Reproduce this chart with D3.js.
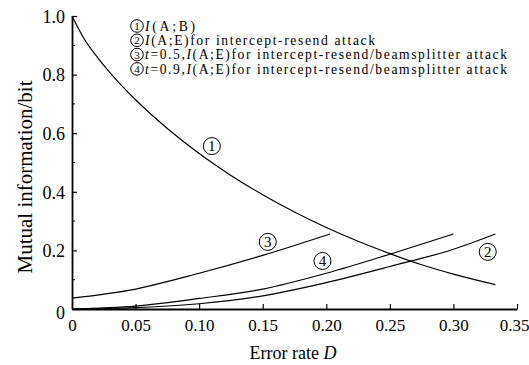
<!DOCTYPE html>
<html>
<head>
<meta charset="utf-8">
<script src="https://cdn.jsdelivr.net/npm/d3@7"></script>
<style>
  body { margin: 0; background: #fff; }
  svg { display: block; }
  text { font-family: "Liberation Serif", "Times New Roman", serif; fill: #000; }
</style>
</head>
<body>
<div id="chart"></div>
<script>
const width = 529;
const height = 365;

// Curve values (error rate D -> mutual information, bit)
const errRate1 = [0, 0.01, 0.02, 0.03, 0.05, 0.075, 0.10, 0.125, 0.15, 0.175, 0.20, 0.225, 0.25, 0.275, 0.30, 0.333];
const infoAB   = [1.0, 0.919, 0.859, 0.806, 0.714, 0.616, 0.531, 0.456, 0.39, 0.331, 0.278, 0.231, 0.189, 0.151, 0.119, 0.083];

const errRate2 = [0, 0.05, 0.10, 0.15, 0.20, 0.25, 0.30, 0.333];
const infoAE   = [0, 0.005, 0.018, 0.045, 0.09, 0.145, 0.204, 0.256];

const errRate3 = [0, 0.05, 0.10, 0.15, 0.203];
const infoT05  = [0.037, 0.068, 0.122, 0.183, 0.256];

const errRate4 = [0, 0.05, 0.10, 0.15, 0.20, 0.25, 0.30];
const infoT09  = [0, 0.01, 0.036, 0.068, 0.122, 0.187, 0.256];

const xTicks = [0, 0.05, 0.10, 0.15, 0.20, 0.25, 0.30, 0.35];
const xTickLabels = ['0', '0.05', '0.10', '0.15', '0.20', '0.25', '0.30', '0.35'];
const yTicks = [0, 0.2, 0.4, 0.6, 0.8, 1.0];
const yTickLabels = ['0', '0.2', '0.4', '0.6', '0.8', '1.0'];
const yMinorTicks = [0.1, 0.3, 0.5, 0.7, 0.9];

// label positions are given in data units
const curveLabels = [
  { num: '1', d: 0.110, v: 0.556 },
  { num: '2', d: 0.327, v: 0.195 },
  { num: '3', d: 0.154, v: 0.229 },
  { num: '4', d: 0.197, v: 0.164 },
];

const serif = '"Liberation Serif", "Times New Roman", serif';

const svg = d3.select('#chart')
  .append('svg')
  .attr('width', width)
  .attr('height', height)
  .style('font-family', serif);

const x = d3.scaleLinear().domain([0, 0.35]).range([72, 517]);
const y = d3.scaleLinear().domain([0, 1]).range([309, 16]);

// x axis, ticks point inward
const xAxis = svg.append('g')
  .attr('transform', `translate(0,${y(0)})`)
  .call(d3.axisBottom(x)
    .tickValues(xTicks)
    .tickFormat((d, i) => xTickLabels[i])
    .tickSizeInner(-5)
    .tickSizeOuter(0)
    .tickPadding(8))
  .attr('font-family', null)
  .attr('font-size', null);
xAxis.select('.domain').attr('stroke-width', 1.8);
xAxis.selectAll('.tick line').attr('stroke-width', 1.2);
xAxis.selectAll('.tick text')
  .style('font-family', serif)
  .attr('font-size', 17)
  .attr('y', 10)
  .attr('dy', '0.72em')
  .attr('dx', (d) => d === 0.35 ? -3 : 0);

// y axis
const yAxis = svg.append('g')
  .attr('transform', `translate(${x(0)},0)`)
  .call(d3.axisLeft(y)
    .tickValues(yTicks)
    .tickFormat((d, i) => yTickLabels[i])
    .tickSizeInner(-5)
    .tickSizeOuter(0)
    .tickPadding(8))
  .attr('font-family', null)
  .attr('font-size', null);
yAxis.select('.domain').attr('stroke-width', 1.8);
yAxis.selectAll('.tick line').attr('stroke-width', 1.2);
yAxis.selectAll('.tick text')
  .style('font-family', serif)
  .attr('font-size', 18)
  .attr('x', -7)
  .attr('dy', (d) => d === 0 ? '0.5em' : '0.35em');

svg.append('g')
  .selectAll('line')
  .data(yMinorTicks)
  .join('line')
  .attr('x1', x(0))
  .attr('x2', x(0) + 3)
  .attr('y1', (d) => y(d))
  .attr('y2', (d) => y(d))
  .attr('stroke', '#000')
  .attr('stroke-width', 1);

// curves
const line = d3.line()
  .x((d) => x(d[0]))
  .y((d) => y(d[1]))
  .curve(d3.curveMonotoneX);

const series = [
  d3.zip(errRate1, infoAB),
  d3.zip(errRate2, infoAE),
  d3.zip(errRate3, infoT05),
  d3.zip(errRate4, infoT09),
];

svg.append('g')
  .selectAll('path')
  .data(series)
  .join('path')
  .attr('d', line)
  .attr('fill', 'none')
  .attr('stroke', '#000')
  .attr('stroke-width', 1.2);

// circled curve numbers
const marks = svg.append('g')
  .selectAll('g')
  .data(curveLabels)
  .join('g')
  .attr('transform', (d) => `translate(${x(d.d)},${y(d.v)})`);
marks.append('circle')
  .attr('r', 8.5)
  .attr('fill', '#fff')
  .attr('stroke', '#000')
  .attr('stroke-width', 1);
marks.append('text')
  .attr('text-anchor', 'middle')
  .attr('dy', '0.36em')
  .attr('font-size', 15)
  .text((d) => d.num);

// legend
const legendRows = [
  { num: '1', parts: [['I', true], ['(A;B)', false]], w: 50 },
  { num: '2', parts: [['I', true], ['(A;E)for intercept-resend attack', false]], w: 230 },
  { num: '3', parts: [['t', true], ['=0.5,', false], ['I', true], ['(A;E)for intercept-resend/beamsplitter attack', false]], w: 362 },
  { num: '4', parts: [['t', true], ['=0.9,', false], ['I', true], ['(A;E)for intercept-resend/beamsplitter attack', false]], w: 362 },
];

const legend = svg.append('g');
legendRows.forEach((row, i) => {
  const cy = 26 + i * 14.3;
  legend.append('circle')
    .attr('cx', 137)
    .attr('cy', cy)
    .attr('r', 6.3)
    .attr('fill', 'none')
    .attr('stroke', '#000')
    .attr('stroke-width', 1);
  legend.append('text')
    .attr('x', 137)
    .attr('y', cy)
    .attr('dy', '0.36em')
    .attr('text-anchor', 'middle')
    .attr('font-size', 11)
    .text(row.num);
  const t = legend.append('text')
    .attr('x', 145)
    .attr('y', cy)
    .attr('dy', '0.34em')
    .attr('font-size', 13.6);
  row.parts.forEach(([s, it]) => {
    t.append('tspan')
      .attr('font-style', it ? 'italic' : 'normal')
      .text(s);
  });
  const natural = t.node().getComputedTextLength();
  const n = row.parts.map((p) => p[0]).join('').length;
  t.attr('letter-spacing', (row.w - natural) / (n - 1));
});

// axis titles
const yTitle = svg.append('text')
  .attr('transform', 'translate(26,177) rotate(-90)')
  .attr('text-anchor', 'middle')
  .attr('dy', '0.3em')
  .attr('font-size', 18)
  .text('Mutual information/bit');
yTitle.attr('font-size', Math.min(21, 18 * 215 / yTitle.node().getComputedTextLength()));

const xTitle = svg.append('text')
  .attr('x', 293)
  .attr('y', 359)
  .attr('text-anchor', 'middle')
  .attr('font-size', 18);
xTitle.append('tspan').text('Error rate ');
xTitle.append('tspan').attr('font-style', 'italic').text('D');
</script>
</body>
</html>
